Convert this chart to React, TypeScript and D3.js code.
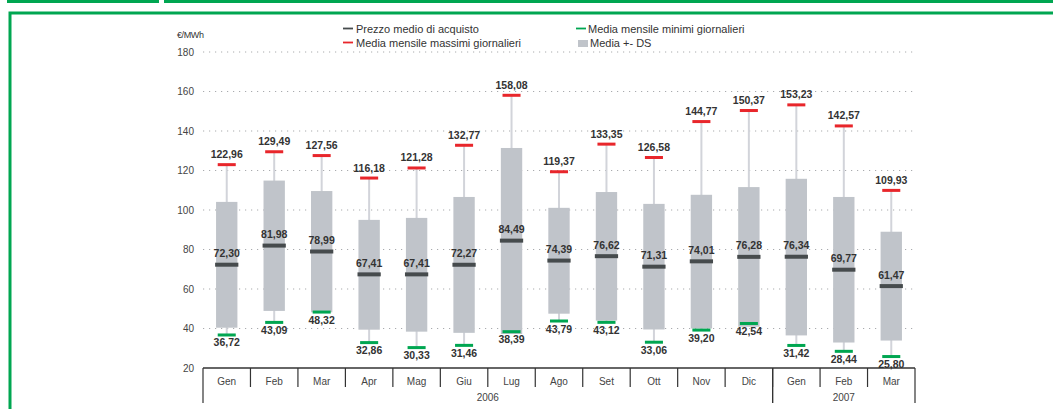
import * as d3 from 'd3';

const months = ['Gen', 'Feb', 'Mar', 'Apr', 'Mag', 'Giu', 'Lug', 'Ago', 'Set', 'Ott', 'Nov', 'Dic', 'Gen', 'Feb', 'Mar'];
const years = ['2006', '2006', '2006', '2006', '2006', '2006', '2006', '2006', '2006', '2006', '2006', '2006', '2007', '2007', '2007'];
const meanPrice = [72.3, 81.98, 78.99, 67.41, 67.41, 72.27, 84.49, 74.39, 76.62, 71.31, 74.01, 76.28, 76.34, 69.77, 61.47];
const maxDaily = [122.96, 129.49, 127.56, 116.18, 121.28, 132.77, 158.08, 119.37, 133.35, 126.58, 144.77, 150.37, 153.23, 142.57, 109.93];
const minDaily = [36.72, 43.09, 48.32, 32.86, 30.33, 31.46, 38.39, 43.79, 43.12, 33.06, 39.2, 42.54, 31.42, 28.44, 25.8];
const dsUpper = [104.1, 114.9, 109.6, 95.0, 96.0, 106.6, 131.4, 101.1, 109.1, 103.1, 107.7, 111.6, 115.8, 106.6, 89.0];
const dsLower = [40.4, 48.9, 48.2, 39.4, 38.4, 37.8, 37.2, 47.5, 44.0, 39.5, 40.0, 40.9, 36.5, 32.9, 33.9];
const yTicks = [20, 40, 60, 80, 100, 120, 140, 160, 180];

const GREEN = '#00a651';
const RED = '#e8262b';
const BOX = '#c0c4ca';
const MEAN = '#464b4d';
const WHISKER = '#d2d4da';
const TXT = '#333';

const fmt = (v: number) => v.toFixed(2).replace('.', ',');

export default function App() {
  const width = 1053;
  const height = 409;
  const left = 203;
  const right = 915;
  const axisY = 368;

  const keys = months.map((m, i) => `${m}-${i}`);
  const x = d3.scaleBand<string>().domain(keys).range([left, right]).padding(0);
  const y = d3.scaleLinear().domain([20, 180]).range([axisY, 52]);
  const bw = x.bandwidth();
  const boxW = bw * 0.45;
  const meanW = bw * 0.49;
  const capW = bw * 0.38;

  // year groups
  const yearGroups = d3.groups(keys.map((k, i) => ({ k, yr: years[i] })), d => d.yr).map(([yr, items]) => ({
    yr,
    x0: x(items[0].k)!,
    x1: x(items[items.length - 1].k)! + bw,
  }));

  const font = 'Liberation Sans, Arial, sans-serif';

  return (
    <svg width={width} height={height} style={{ position: 'absolute', left: 0, top: 0, fontFamily: font }}>
      <rect width={width} height={height} fill="#fff" />
      {/* green frame */}
      <rect x={7} y={0} width={152} height={3} fill={GREEN} />
      <rect x={164} y={0} width={width - 164} height={3} fill={GREEN} />
      <rect x={10} y={13} width={width + 20} height={height + 20} fill="none" stroke={GREEN} strokeWidth={3} />

      {/* legend */}
      <g fontSize={11} fill={TXT}>
        <line x1={343} x2={353} y1={28.5} y2={28.5} stroke={MEAN} strokeWidth={1.8} />
        <text x={356} y={32.5}>Prezzo medio di acquisto</text>
        <line x1={343} x2={353} y1={42.5} y2={42.5} stroke={RED} strokeWidth={1.8} />
        <text x={356} y={46.5}>Media mensile massimi giornalieri</text>
        <line x1={576} x2={586} y1={28.5} y2={28.5} stroke={GREEN} strokeWidth={1.8} />
        <text x={588} y={32.5}>Media mensile minimi giornalieri</text>
        <rect x={578} y={40} width={10} height={7} fill={BOX} />
        <text x={590} y={46.5}>Media +- DS</text>
      </g>

      {/* y axis */}
      <text x={177} y={38} fontSize={9} fill={TXT} letterSpacing={-0.4}>€/MWh</text>
      {yTicks.map(t => (
        <g key={t}>
          <text x={194} y={y(t) + 3.5} fontSize={10} fill="#444" textAnchor="end">{t}</text>
          {t > 20 && (
            <line x1={left} x2={right} y1={y(t)} y2={y(t)} stroke="#a9abae" strokeWidth={1.2} strokeDasharray="1.2,4.8" />
          )}
        </g>
      ))}

      {/* marks */}
      {keys.map((k, i) => {
        const cx = x(k)! + bw / 2;
        return (
          <g key={k}>
            <line x1={cx} x2={cx} y1={y(maxDaily[i])} y2={y(minDaily[i])} stroke={WHISKER} strokeWidth={2} />
            <rect x={cx - boxW / 2} y={y(dsUpper[i])} width={boxW} height={y(dsLower[i]) - y(dsUpper[i])} fill={BOX} />
            <rect x={cx - meanW / 2} y={y(meanPrice[i]) - 2} width={meanW} height={4} fill={MEAN} />
            <rect x={cx - capW / 2} y={y(maxDaily[i]) - 1.5} width={capW} height={3} fill={RED} />
            <rect x={cx - capW / 2} y={y(minDaily[i]) - 1.5} width={capW} height={3} fill={GREEN} />
            <g fontSize={10.5} fontWeight="bold" fill={TXT} textAnchor="middle">
              <text x={cx} y={y(maxDaily[i]) - 6.5}>{fmt(maxDaily[i])}</text>
              <text x={cx} y={y(meanPrice[i]) - 7.5}>{fmt(meanPrice[i])}</text>
              <text x={cx} y={y(minDaily[i]) + 11.5}>{fmt(minDaily[i])}</text>
            </g>
          </g>
        );
      })}

      {/* x axis */}
      <line x1={left} x2={right} y1={axisY} y2={axisY} stroke="#333" strokeWidth={1.5} />
      {keys.map((k, i) => (
        <g key={`ax-${k}`}>
          {i > 0 && <line x1={x(k)!} x2={x(k)!} y1={axisY} y2={387} stroke="#333" strokeWidth={1.2} />}
          <text x={x(k)! + bw / 2} y={384.5} fontSize={10} fill="#444" textAnchor="middle">{months[i]}</text>
        </g>
      ))}
      {yearGroups.map(g => (
        <g key={g.yr}>
          <line x1={g.x0} x2={g.x0} y1={axisY} y2={403} stroke="#333" strokeWidth={1.2} />
          <line x1={g.x1} x2={g.x1} y1={axisY} y2={403} stroke="#333" strokeWidth={1.2} />
          <text x={(g.x0 + g.x1) / 2} y={400.5} fontSize={10} fill="#444" textAnchor="middle">{g.yr}</text>
        </g>
      ))}
    </svg>
  );
}
